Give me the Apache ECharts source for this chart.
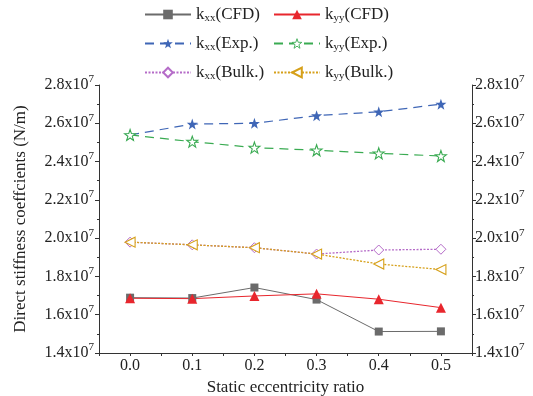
<!DOCTYPE html>
<html><head><meta charset="utf-8">
<script src="https://cdn.jsdelivr.net/npm/echarts@6/dist/echarts.min.js"></script>
<style>html,body{margin:0;padding:0;background:#fff}#c{width:533px;height:396px}</style>
</head><body><div id="c"></div>
<script>
const xValues = [0.0, 0.1, 0.2, 0.3, 0.4, 0.5];
const kxxCFD  = [1.689e7, 1.687e7, 1.742e7, 1.679e7, 1.512e7, 1.513e7];
const kyyCFD  = [1.686e7, 1.684e7, 1.698e7, 1.709e7, 1.681e7, 1.637e7];
const kxxExp  = [2.539e7, 2.596e7, 2.600e7, 2.640e7, 2.660e7, 2.700e7];
const kyyExp  = [2.539e7, 2.504e7, 2.473e7, 2.459e7, 2.443e7, 2.429e7];
const kxxBulk = [1.979e7, 1.965e7, 1.950e7, 1.917e7, 1.938e7, 1.942e7];
const kyyBulk = [1.979e7, 1.965e7, 1.950e7, 1.917e7, 1.865e7, 1.836e7];
const seriesNames = ['kxx(CFD)', 'kyy(CFD)', 'kxx(Exp.)', 'kyy(Exp.)', 'kxx(Bulk.)', 'kyy(Bulk.)'];

const FONT = 'Liberation Serif';
const TXT = '#222';
const star = 'path://M0,-10 L2.35,-3.24 L9.51,-3.09 L3.8,1.24 L5.88,8.09 L0,4 L-5.88,8.09 L-3.8,1.24 L-9.51,-3.09 L-2.35,-3.24 Z';

function pts(arr){ return xValues.map((x,i)=>[x, arr[i]]); }

const chart = echarts.init(document.getElementById('c'));
const legendText = {
  fontFamily: FONT, fontSize: 17, color: TXT,
  rich: {
    k: {fontFamily: FONT, fontSize: 17, color: TXT},
    sub: {fontFamily: FONT, fontSize: 11, color: TXT, padding: [7,0,0,0]}
  }
};
function legendFmt(name){
  const m = name.match(/^k(xx|yy)(.*)$/);
  return '{k|k}{sub|' + m[1] + '}{k|' + m[2] + '}';
}
const yLabel = {
  fontFamily: FONT, fontSize: 16, color: TXT,
  formatter: v => '{n|' + (v/1e7).toFixed(1) + 'x10}{sup|7}',
  rich: {
    n: {fontFamily: FONT, fontSize: 16, color: TXT},
    sup: {fontFamily: FONT, fontSize: 11, color: TXT, padding: [0,0,11,0]}
  }
};
const axisLine = {show: true, onZero: false, lineStyle: {color: '#333', width: 1}};

chart.setOption({
  animation: false,
  backgroundColor: '#fff',
  grid: {left: 99, right: 61, top: 85, bottom: 43, containLabel: false, outerBoundsMode: 'none'},
  legend: [
    {orient: 'vertical', left: 144, top: 6, padding: 0, itemGap: 11.5, itemWidth: 46, itemHeight: 12,
     data: [seriesNames[0], seriesNames[2], seriesNames[4]], textStyle: legendText, formatter: legendFmt},
    {orient: 'vertical', left: 273, top: 6, padding: 0, itemGap: 11.5, itemWidth: 46, itemHeight: 12,
     data: [seriesNames[1], {name: seriesNames[3], itemStyle: {borderWidth: 0.9}}, seriesNames[5]], textStyle: legendText, formatter: legendFmt}
  ],
  xAxis: {
    type: 'value', min: -0.05, max: 0.55, interval: 0.05,
    name: 'Static eccentricity ratio', nameLocation: 'middle', nameGap: 21,
    nameTextStyle: {fontFamily: FONT, fontSize: 17, color: TXT},
    axisLine: axisLine,
    axisTick: {show: true, inside: false, length: 3, lineStyle: {color: '#333'}},
    axisLabel: {fontFamily: FONT, fontSize: 16, color: TXT, margin: 5,
      formatter: v => { const r = Math.round(v*100); return (r % 10 === 0 && r >= 0) ? (r/100).toFixed(1) : ''; }},
    splitLine: {show: false}
  },
  yAxis: [
    {type: 'value', min: 1.4e7, max: 2.8e7, interval: 0.2e7, position: 'left',
     name: 'Direct stiffness coeffcients (N/m)', nameLocation: 'middle', nameGap: 70,
     nameTextStyle: {fontFamily: FONT, fontSize: 17, color: TXT},
     axisLine: axisLine,
     axisTick: {show: true, inside: false, length: 4, lineStyle: {color: '#333'}},
     minorTick: {show: true, splitNumber: 2, length: 2, lineStyle: {color: '#333'}},
     axisLabel: Object.assign({margin: 5}, yLabel),
     splitLine: {show: false}},
    {type: 'value', min: 1.4e7, max: 2.8e7, interval: 0.2e7, position: 'right',
     axisLine: axisLine,
     axisTick: {show: true, inside: false, length: 4, lineStyle: {color: '#333'}},
     minorTick: {show: true, splitNumber: 2, length: 2, lineStyle: {color: '#333'}},
     axisLabel: Object.assign({margin: 3}, yLabel),
     splitLine: {show: false}}
  ],
  series: [
    {name: seriesNames[0], type: 'line', data: pts(kxxCFD), symbol: 'rect', symbolSize: 8,
     lineStyle: {color: '#6b6b6b', width: 1}, itemStyle: {color: '#6b6b6b'}},
    {name: seriesNames[1], type: 'line', data: pts(kyyCFD), symbol: 'triangle', symbolSize: 10,
     lineStyle: {color: '#e8262d', width: 1}, itemStyle: {color: '#e8262d'}},
    {name: seriesNames[2], type: 'line', data: pts(kxxExp), symbol: star, symbolSize: 11,
     lineStyle: {color: '#3f66b6', width: 1.2, type: [9,6]}, itemStyle: {color: '#3f66b6'}},
    {name: seriesNames[3], type: 'line', data: pts(kyyExp), symbol: star, symbolSize: 11,
     lineStyle: {color: '#3aab52', width: 1.2, type: [9,6]}, itemStyle: {color: '#ffffff', borderColor: '#3aab52', borderWidth: 1.1}},
    {name: seriesNames[4], type: 'line', data: pts(kxxBulk), symbol: 'diamond', symbolSize: 10,
     lineStyle: {color: '#b56cc8', width: 1.3, type: [2,1.5]}, itemStyle: {color: '#ffffff', borderColor: '#b56cc8', borderWidth: 1}},
    {name: seriesNames[5], type: 'line', data: pts(kyyBulk), symbol: 'triangle', symbolRotate: 90, symbolSize: 10,
     lineStyle: {color: '#d6a01a', width: 1.3, type: [2,1.5]}, itemStyle: {color: '#ffffff', borderColor: '#d6a01a', borderWidth: 1.1}}
  ]
});
</script></body></html>
